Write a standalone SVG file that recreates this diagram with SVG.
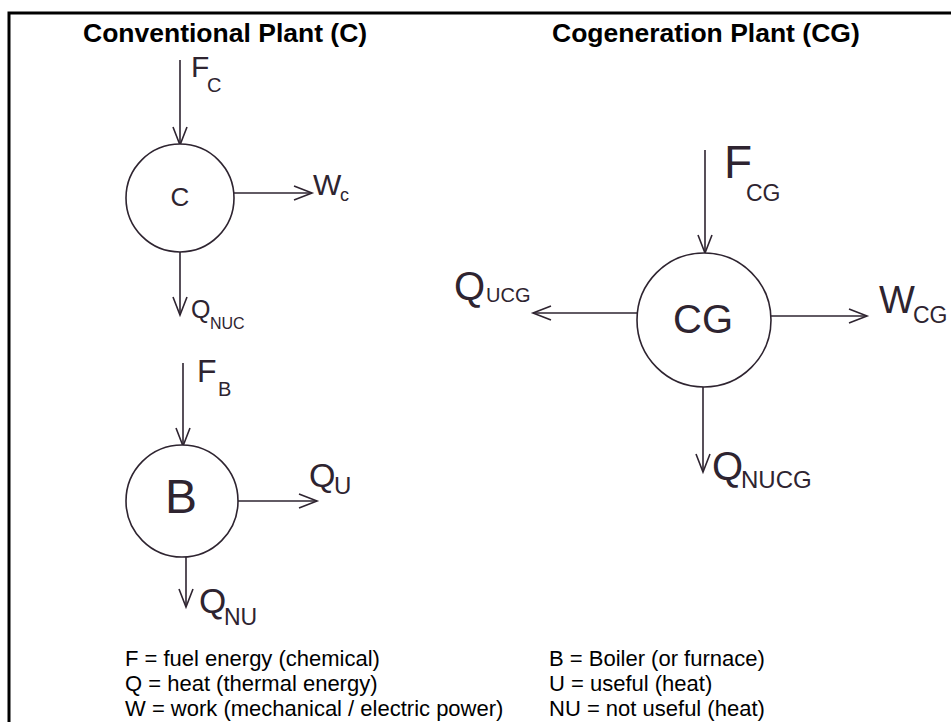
<svg xmlns="http://www.w3.org/2000/svg" width="951" height="722" viewBox="0 0 951 722">
<style>
.title{font-family:"Liberation Sans",Arial,sans-serif;font-weight:bold;font-size:26.5px;fill:#000}
.legend{font-family:"Liberation Sans",Arial,sans-serif;font-size:22px;fill:#000}
.hand{font-family:"Liberation Sans",Arial,sans-serif;fill:#2e2430}
.node{fill:#fff;stroke:#2e2430;stroke-width:1.6}
.flow{fill:none;stroke:#2e2430;stroke-width:1.6;marker-end:url(#arr)}
</style>
<defs>
<marker id="arr" markerUnits="userSpaceOnUse" markerWidth="22" markerHeight="18" refX="19" refY="8" orient="auto">
<path d="M1,1 L19,8 L1,15" fill="none" stroke="#2e2430" stroke-width="1.6"/>
</marker>
</defs>
<rect width="951" height="722" fill="#fff"/>
<path d="M9,730 V13 H960" fill="none" stroke="#000" stroke-width="3"/>
<text class="title" x="83" y="42">Conventional Plant (C)</text>
<text class="title" x="552" y="42">Cogeneration Plant (CG)</text>

<g id="connectors">
<path class="flow" d="M180,60 V145"/>
<path class="flow" d="M234,193 H312"/>
<path class="flow" d="M180,252 V315"/>
<path class="flow" d="M183,363 V446"/>
<path class="flow" d="M238,501 H317"/>
<path class="flow" d="M186,557 V607"/>
<path class="flow" d="M705,150 V253"/>
<path class="flow" d="M637,313 H533"/>
<path class="flow" d="M771,316 H867"/>
<path class="flow" d="M703,387 V472"/>
</g>

<g id="node-C">
<circle class="node" cx="180" cy="198" r="54"/>
<text class="hand" x="180" y="206" font-size="26" text-anchor="middle">C</text>
</g>
<g id="node-B">
<circle class="node" cx="182" cy="501" r="56"/>
<text class="hand" x="181" y="513" font-size="48" text-anchor="middle">B</text>
</g>
<g id="node-CG">
<circle class="node" cx="704" cy="320" r="67"/>
<text class="hand" x="703" y="333" font-size="40" text-anchor="middle">CG</text>
</g>

<g id="labels">
<text class="hand"><tspan x="191" y="77" font-size="30">F</tspan><tspan x="207" y="92" font-size="20">C</tspan></text>
<text class="hand"><tspan x="313" y="195" font-size="30">W</tspan><tspan x="340" y="201" font-size="18">c</tspan></text>
<text class="hand"><tspan x="191" y="318" font-size="25">Q</tspan><tspan x="210" y="329" font-size="16">NUC</tspan></text>
<text class="hand"><tspan x="197" y="382" font-size="32">F</tspan><tspan x="218" y="396" font-size="20">B</tspan></text>
<text class="hand"><tspan x="309" y="487" font-size="34">Q</tspan><tspan x="334" y="494" font-size="24">U</tspan></text>
<text class="hand"><tspan x="199" y="613" font-size="35">Q</tspan><tspan x="224" y="625" font-size="23">NU</tspan></text>
<text class="hand"><tspan x="724" y="178" font-size="46">F</tspan><tspan x="746" y="201" font-size="23">CG</tspan></text>
<text class="hand"><tspan x="454" y="300" font-size="40">Q</tspan><tspan x="486" y="302" font-size="20">UCG</tspan></text>
<text class="hand"><tspan x="879" y="313" font-size="38">W</tspan><tspan x="913" y="323" font-size="23">CG</tspan></text>
<text class="hand"><tspan x="712" y="480" font-size="40">Q</tspan><tspan x="741" y="488" font-size="24">NUCG</tspan></text>
</g>

<g id="legend">
<text class="legend" x="125" y="666">F = fuel energy (chemical)</text>
<text class="legend" x="125" y="691">Q = heat (thermal energy)</text>
<text class="legend" x="125" y="716">W = work (mechanical / electric power)</text>
<text class="legend" x="549" y="666">B = Boiler (or furnace)</text>
<text class="legend" x="549" y="691">U = useful (heat)</text>
<text class="legend" x="549" y="716">NU = not useful (heat)</text>
</g>
</svg>
